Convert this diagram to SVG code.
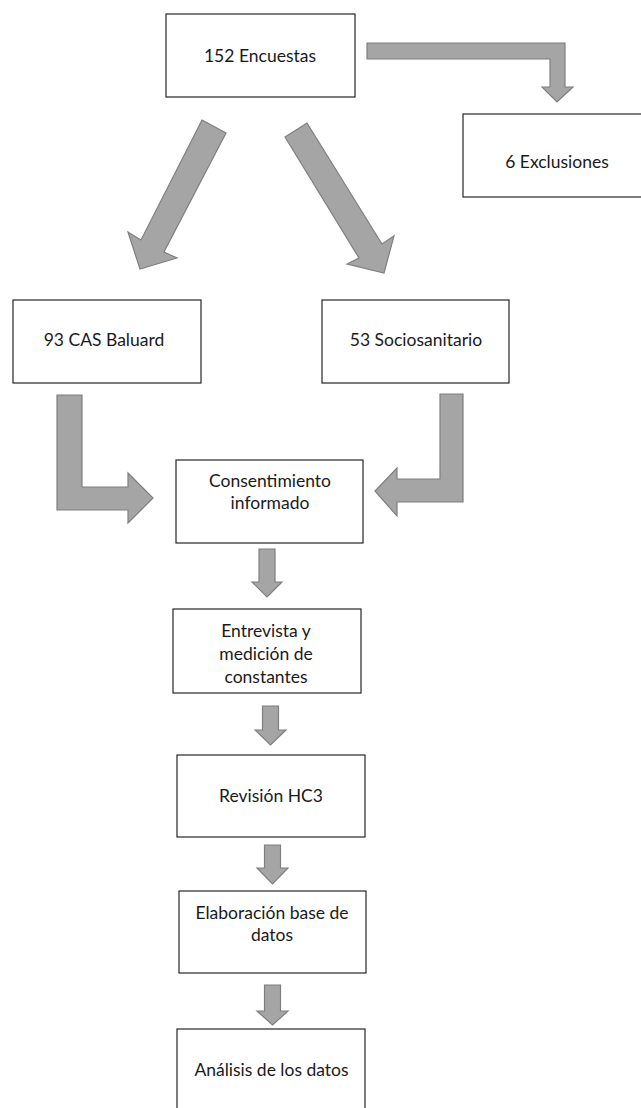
<svg xmlns="http://www.w3.org/2000/svg" width="641" height="1108" viewBox="0 0 641 1108">
<style>
.box{fill:#ffffff;stroke:#262626;stroke-width:1.2}
.arr{fill:#a5a5a5;stroke:#7f7f7f;stroke-width:1.2;stroke-linejoin:miter}
.t{font-family:Lato,"Liberation Sans",sans-serif;font-size:17.5px;fill:#1a1a1a;text-anchor:middle}
</style>
<rect width="641" height="1108" fill="#ffffff"/>
<g id="connectors">
<polygon class="arr" points="367,43 565,43 565,87 573,87 557,102 542,87 550,87 550,59 367,59"/>
<polygon class="arr" points="202,120 226,133 164,252 177,258 140,269 128,232 141,240"/>
<polygon class="arr" points="285,137 307,123 382,244 394,236 384,273 347,264 359,258"/>
<polygon class="arr" points="57,395 82,395 82,487 128,487 128,473 153,498 128,523 128,510 57,510"/>
<polygon class="arr" points="440,394 463,394 463,502 397,502 397,516 375,491 397,468 397,479 440,479"/>
<polygon class="arr" points="259,549 275,549 275,582 282,582 267,597 252,582 259,582"/>
<polygon class="arr" points="262.5,706 278.5,706 278.5,730 286,730 270.5,745 255,730 262.5,730"/>
<polygon class="arr" points="264.5,845 280.5,845 280.5,868 288,868 272.5,884 257,868 264.5,868"/>
<polygon class="arr" points="264.5,985 280.5,985 280.5,1011 288,1011 272.5,1025 257,1011 264.5,1011"/>
</g>
<g id="n1"><rect class="box" x="166" y="14" width="189" height="83"/><text class="t" x="260" y="61.5">152 Encuestas</text></g>
<g id="n2"><rect class="box" x="463" y="114" width="188" height="83"/><text class="t" x="557" y="168">6 Exclusiones</text></g>
<g id="n3"><rect class="box" x="13" y="300" width="188" height="83"/><text class="t" x="104" y="346">93 CAS Baluard</text></g>
<g id="n4"><rect class="box" x="322" y="300" width="187" height="83"/><text class="t" x="416" y="346">53 Sociosanitario</text></g>
<g id="n5"><rect class="box" x="176" y="460" width="187" height="83"/><text class="t" x="270" y="487">Consentimiento</text><text class="t" x="270" y="509">informado</text></g>
<g id="n6"><rect class="box" x="173" y="609" width="188" height="84"/><text class="t" x="266" y="637">Entrevista y</text><text class="t" x="266" y="660">medición de</text><text class="t" x="266" y="683">constantes</text></g>
<g id="n7"><rect class="box" x="177" y="755" width="188" height="82"/><text class="t" x="271" y="802">Revisión HC3</text></g>
<g id="n8"><rect class="box" x="179" y="891" width="187" height="82"/><text class="t" x="272" y="919">Elaboración base de</text><text class="t" x="272" y="941">datos</text></g>
<g id="n9"><rect class="box" x="177" y="1029" width="188" height="95"/><text class="t" x="271.5" y="1076">Análisis de los datos</text></g>
</svg>
